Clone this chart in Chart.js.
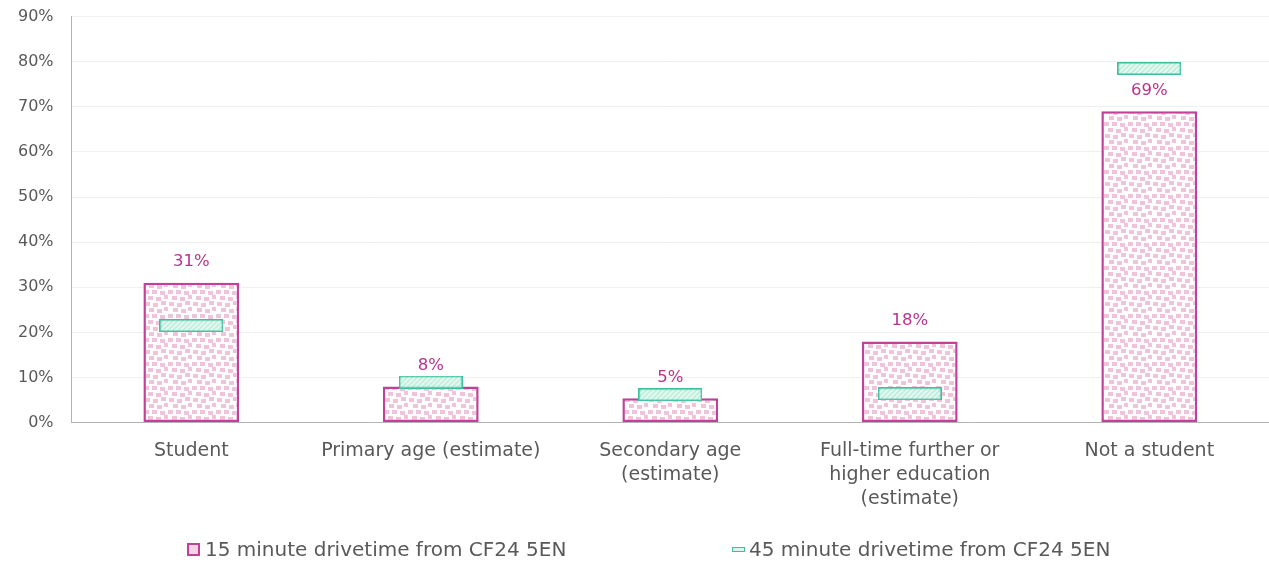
<!DOCTYPE html>
<html><head><meta charset="utf-8">
<script src="https://cdn.jsdelivr.net/npm/chart.js@4/dist/chart.umd.min.js"></script>
<style>
html,body{margin:0;padding:0;background:#fff;}
#wrap{position:relative;width:1269px;height:563px;overflow:hidden;}
canvas{display:block;margin-top:-11px;}
.leg{position:absolute;top:537px;font-family:"DejaVu Sans",sans-serif;font-size:20px;color:#595959;white-space:nowrap;display:flex;align-items:center;}
.box1{width:9px;height:9px;border:2px solid #c0409a;background:#f4d3e6;margin-right:5px;}
.box2{width:11px;height:3px;border:1px solid #3cbf9c;background:#d9f5ec;margin-right:4px;}
</style></head>
<body><div id="wrap"><canvas id="c" width="1269" height="574"></canvas>
<div class="leg" style="left:187px"><span class="box1"></span>15 minute drivetime from CF24 5EN</div>
<div class="leg" style="left:732px"><span class="box2"></span>45 minute drivetime from CF24 5EN</div>
</div>
<script>
const categories = ["Student","Primary age (estimate)",["Secondary age","(estimate)"],["Full-time further or","higher education","(estimate)"],"Not a student"];
const drive15 = [31, 8, 5.4, 18, 69];
const drive45 = [21.5, 9.0, 6.2, 6.4, 78.5];
const drive15Labels = ["31%","8%","5%","18%","69%"];
const yTicks = [0,10,20,30,40,50,60,70,80,90];

const FONT = '"DejaVu Sans", sans-serif';
const PINK = '#c0409a';
const TEAL = '#3cbf9c';

function pinkPattern(){
  const c = document.createElement('canvas'); c.width = 24; c.height = 24;
  const g = c.getContext('2d');
  g.fillStyle = '#ffffff'; g.fillRect(0,0,24,24);
  g.fillStyle = '#f0c3dd';
  const sq = [[1,1],[9,2],[17,0],[5,7],[13,8],[20,6],[0,13],[8,13],[16,14],[4,19],[12,20],[20,18]];
  sq.forEach(p=>g.fillRect(p[0],p[1],5,4));
  return g.createPattern(c,'repeat');
}
function tealMarker(){
  const w=64,h=13;
  const c = document.createElement('canvas'); c.width=w; c.height=h;
  const g = c.getContext('2d');
  g.fillStyle = '#f2fcf8'; g.fillRect(0,0,w,h);
  g.strokeStyle = '#bfeedd'; g.lineWidth = 2;
  for(let x=-h; x<w+h; x+=5){ g.beginPath(); g.moveTo(x,h); g.lineTo(x+h,0); g.stroke(); }
  g.strokeStyle = TEAL; g.lineWidth = 1.5;
  g.strokeRect(0.75,0.75,w-1.5,h-1.5);
  return c;
}

const labelPlugin = {
  id:'barLabels',
  afterDatasetsDraw(chart){
    const meta = chart.getDatasetMeta(0);
    const ctx = chart.ctx;
    ctx.save();
    ctx.font = '16.5px ' + FONT;
    ctx.fillStyle = '#b8358c';
    ctx.textAlign = 'center'; ctx.textBaseline = 'middle';
    meta.data.forEach((el,i)=>{ ctx.fillText(drive15Labels[i], el.x, el.y - 21); });
    ctx.restore();
  }
};

new Chart(document.getElementById('c'), {
  type:'bar',
  data:{
    labels: categories,
    datasets:[
      {label:'15 minute drivetime from CF24 5EN', data: drive15, backgroundColor: pinkPattern(), borderColor: PINK, borderWidth: 2.5, borderSkipped:false, barPercentage:0.4, categoryPercentage:1, order:2},
      {type:'line', label:'45 minute drivetime from CF24 5EN', data: drive45, showLine:false, pointStyle: tealMarker(), pointRadius:10, pointHoverRadius:10, order:1}
    ]
  },
  options:{
    responsive:false, animation:false,
    layout:{autoPadding:false, padding:{top:6,right:0,left:0,bottom:36}},
    plugins:{legend:{display:false}, tooltip:{enabled:false}},
    scales:{
      x:{
        grid:{display:false, drawTicks:false},
        border:{color:'#b3b3b3', width:1},
        ticks:{color:'#595959', font:{family:FONT, size:19, lineHeight:1.27}, padding:16, maxRotation:0, autoSkip:false}
      },
      y:{
        min:0, max:90,
        afterBuildTicks(s){ s.ticks = yTicks.map(v=>({value:v})); },
        grid:{color:'#efefef', drawTicks:false},
        border:{color:'#b3b3b3', width:1},
        ticks:{color:'#595959', font:{family:FONT, size:16}, padding:18, callback:v=>v+'%'}
      }
    }
  },
  plugins:[labelPlugin]
});
</script>
</body></html>
